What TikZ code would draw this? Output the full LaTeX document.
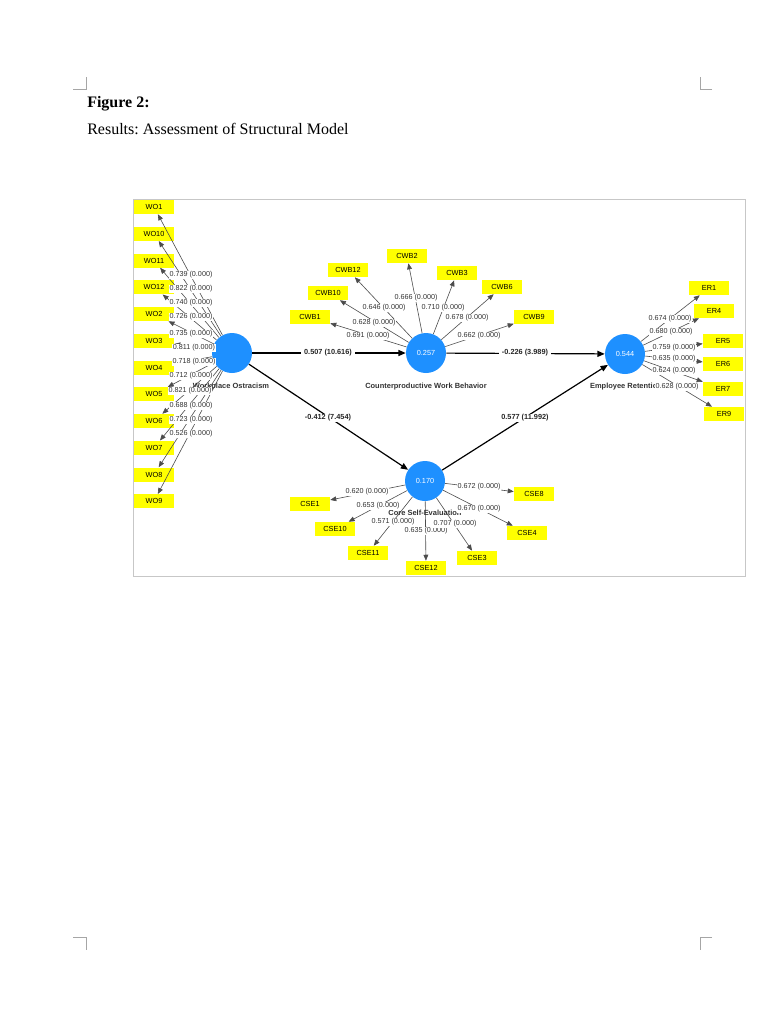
\documentclass[tikz,border=0pt]{standalone}
\usepackage{fontspec}
\setmainfont{Liberation Serif}
\newfontfamily\plsfont{Liberation Sans}
\usetikzlibrary{arrows.meta}
\definecolor{plsblue}{RGB}{30,144,255}
\definecolor{plsyellow}{RGB}{255,255,0}
\frenchspacing

\begin{document}
\begin{tikzpicture}[x=0.75pt,y=-0.75pt]
        \tikzset{
        lv node/.style={circle,fill=plsblue,minimum size=30pt,inner sep=0,text=white,font=\plsfont\fontsize{5.5}{6}\selectfont},
        ind node/.style={fill=plsyellow,minimum width=30pt,minimum height=10.5pt,inner sep=0,font=\plsfont\fontsize{5.5}{6}\selectfont},
        ld edge/.style={-{Triangle[length=4.5pt,width=3.6pt]},draw=black!70,line width=0.45pt},
        path edge/.style={-{Triangle[length=5.5pt,width=4.5pt]},draw=black,line width=0.9pt},
        ld label/.style={fill=white,inner sep=0.4pt,text=black!80,font=\plsfont\fontsize{5.4}{6}\selectfont},
        path label/.style={fill=white,inner xsep=2pt,inner ysep=0.6pt,text=black!85,font=\plsfont\bfseries\fontsize{5.5}{6}\selectfont},
        lv label/.style={text=black!80,font=\plsfont\bfseries\fontsize{5.6}{6}\selectfont},
        crop mark/.style={draw=black!35,line width=0.5pt}
        }
        \fill[white] (0,0) rectangle (780,1024);
        \useasboundingbox (0,0) rectangle (780,1024);

        \draw[crop mark] (73,89) -- (86,89) -- (86,77);
        \draw[crop mark] (712,89) -- (700,89) -- (700,77);
        \draw[crop mark] (73,937) -- (86,937) -- (86,950);
        \draw[crop mark] (712,937) -- (700,937) -- (700,950);

        \node[anchor=base west,inner sep=0,font=\bfseries\fontsize{12}{14}\selectfont] (fig) at (87,107.5) {Figure 2:};
        \node[anchor=base west,inner sep=0,font=\fontsize{12}{14}\selectfont] (cap) at (87,134.3) {Results: Assessment of Structural Model};

        \draw[draw=black!22,line width=0.7pt] (133,199) rectangle (745,576);

        \node[lv node] (wo) at (232,353) {};
        \node[lv node] (cwb) at (426,353) {0.257};
        \node[lv node] (er) at (625,354) {0.544};
        \node[lv node] (cse) at (425,481) {0.170};

        \foreach \lbl [count=\i from 0] in {WO1,WO10,WO11,WO12,WO2,WO3,WO4,WO5,WO6,WO7,WO8,WO9}
            \node[ind node] (\lbl) at (154,207+26.75*\i) {\lbl};
        \node[ind node] (CWB1) at (310,317) {CWB1};
        \node[ind node] (CWB10) at (328,293) {CWB10};
        \node[ind node] (CWB12) at (348,270) {CWB12};
        \node[ind node] (CWB2) at (407,256) {CWB2};
        \node[ind node] (CWB3) at (457,273) {CWB3};
        \node[ind node] (CWB6) at (502,287) {CWB6};
        \node[ind node] (CWB9) at (534,317) {CWB9};
        \node[ind node] (ER1) at (709,288) {ER1};
        \node[ind node] (ER4) at (714,311) {ER4};
        \node[ind node] (ER5) at (723,341) {ER5};
        \node[ind node] (ER6) at (723,364) {ER6};
        \node[ind node] (ER7) at (723,389) {ER7};
        \node[ind node] (ER9) at (724,414) {ER9};
        \node[ind node] (CSE1) at (310,504) {CSE1};
        \node[ind node] (CSE10) at (335,529) {CSE10};
        \node[ind node] (CSE11) at (368,553) {CSE11};
        \node[ind node] (CSE12) at (426,568) {CSE12};
        \node[ind node] (CSE3) at (477,558) {CSE3};
        \node[ind node] (CSE4) at (527,533) {CSE4};
        \node[ind node] (CSE8) at (534,494) {CSE8};

        \foreach \lbl in {WO1,WO10,WO11,WO12,WO2,WO3,WO4,WO5,WO6,WO7,WO8,WO9}
            \draw[ld edge] (wo) -- (\lbl);
        \foreach \lbl in {CWB1,CWB10,CWB12,CWB2,CWB3,CWB6,CWB9}
            \draw[ld edge] (cwb) -- (\lbl);
        \foreach \lbl in {ER1,ER4,ER5,ER6,ER7,ER9}
            \draw[ld edge] (er) -- (\lbl);
        \foreach \lbl in {CSE1,CSE10,CSE11,CSE12,CSE3,CSE4,CSE8}
            \draw[ld edge] (cse) -- (\lbl);

        \path[path edge]
        (wo) edge (cwb)
        (cwb) edge (er)
        (wo) edge (cse)
        (cse) edge (er)
        ;

        \node[lv label] (wo name) at (231,387) {Workplace Ostracism};
        \node[lv label] (cwb name) at (426,387) {Counterproductive Work Behavior};
        \node[lv label] (er name) at (626,387) {Employee Retention};
        \node[lv label] (cse name) at (425,513) {Core Self-Evaluation};

        \node[path label] at (328,353) {0.507 (10.616)};
        \node[path label] at (525,353) {-0.226 (3.989)};
        \node[path label] at (328,418) {-0.412 (7.454)};
        \node[path label] at (525,418) {0.577 (11.992)};

        \foreach \val/\xx/\yy in {0.739/191/275,0.822/191/289,0.740/191/303,0.726/191/317,0.735/191/334,0.811/194/348,
            0.718/194/362,0.712/191/376,0.821/190/391,0.688/191/406,0.723/191/420,0.526/191/434,
            0.691/368/336,0.628/374/323,0.646/384/308,0.666/416/298,0.710/443/308,0.678/467/318,0.662/479/336,
            0.674/670/319,0.680/671/332,0.759/674/348,0.635/674/359,0.624/674/371,0.628/677/387,
            0.620/367/492,0.653/378/506,0.571/393/522,0.635/426/531,0.707/455/524,0.670/479/509,0.672/479/487}
            \node[ld label] at (\xx,\yy) {\val{} (0.000)};
    \end{tikzpicture}
\end{document}
